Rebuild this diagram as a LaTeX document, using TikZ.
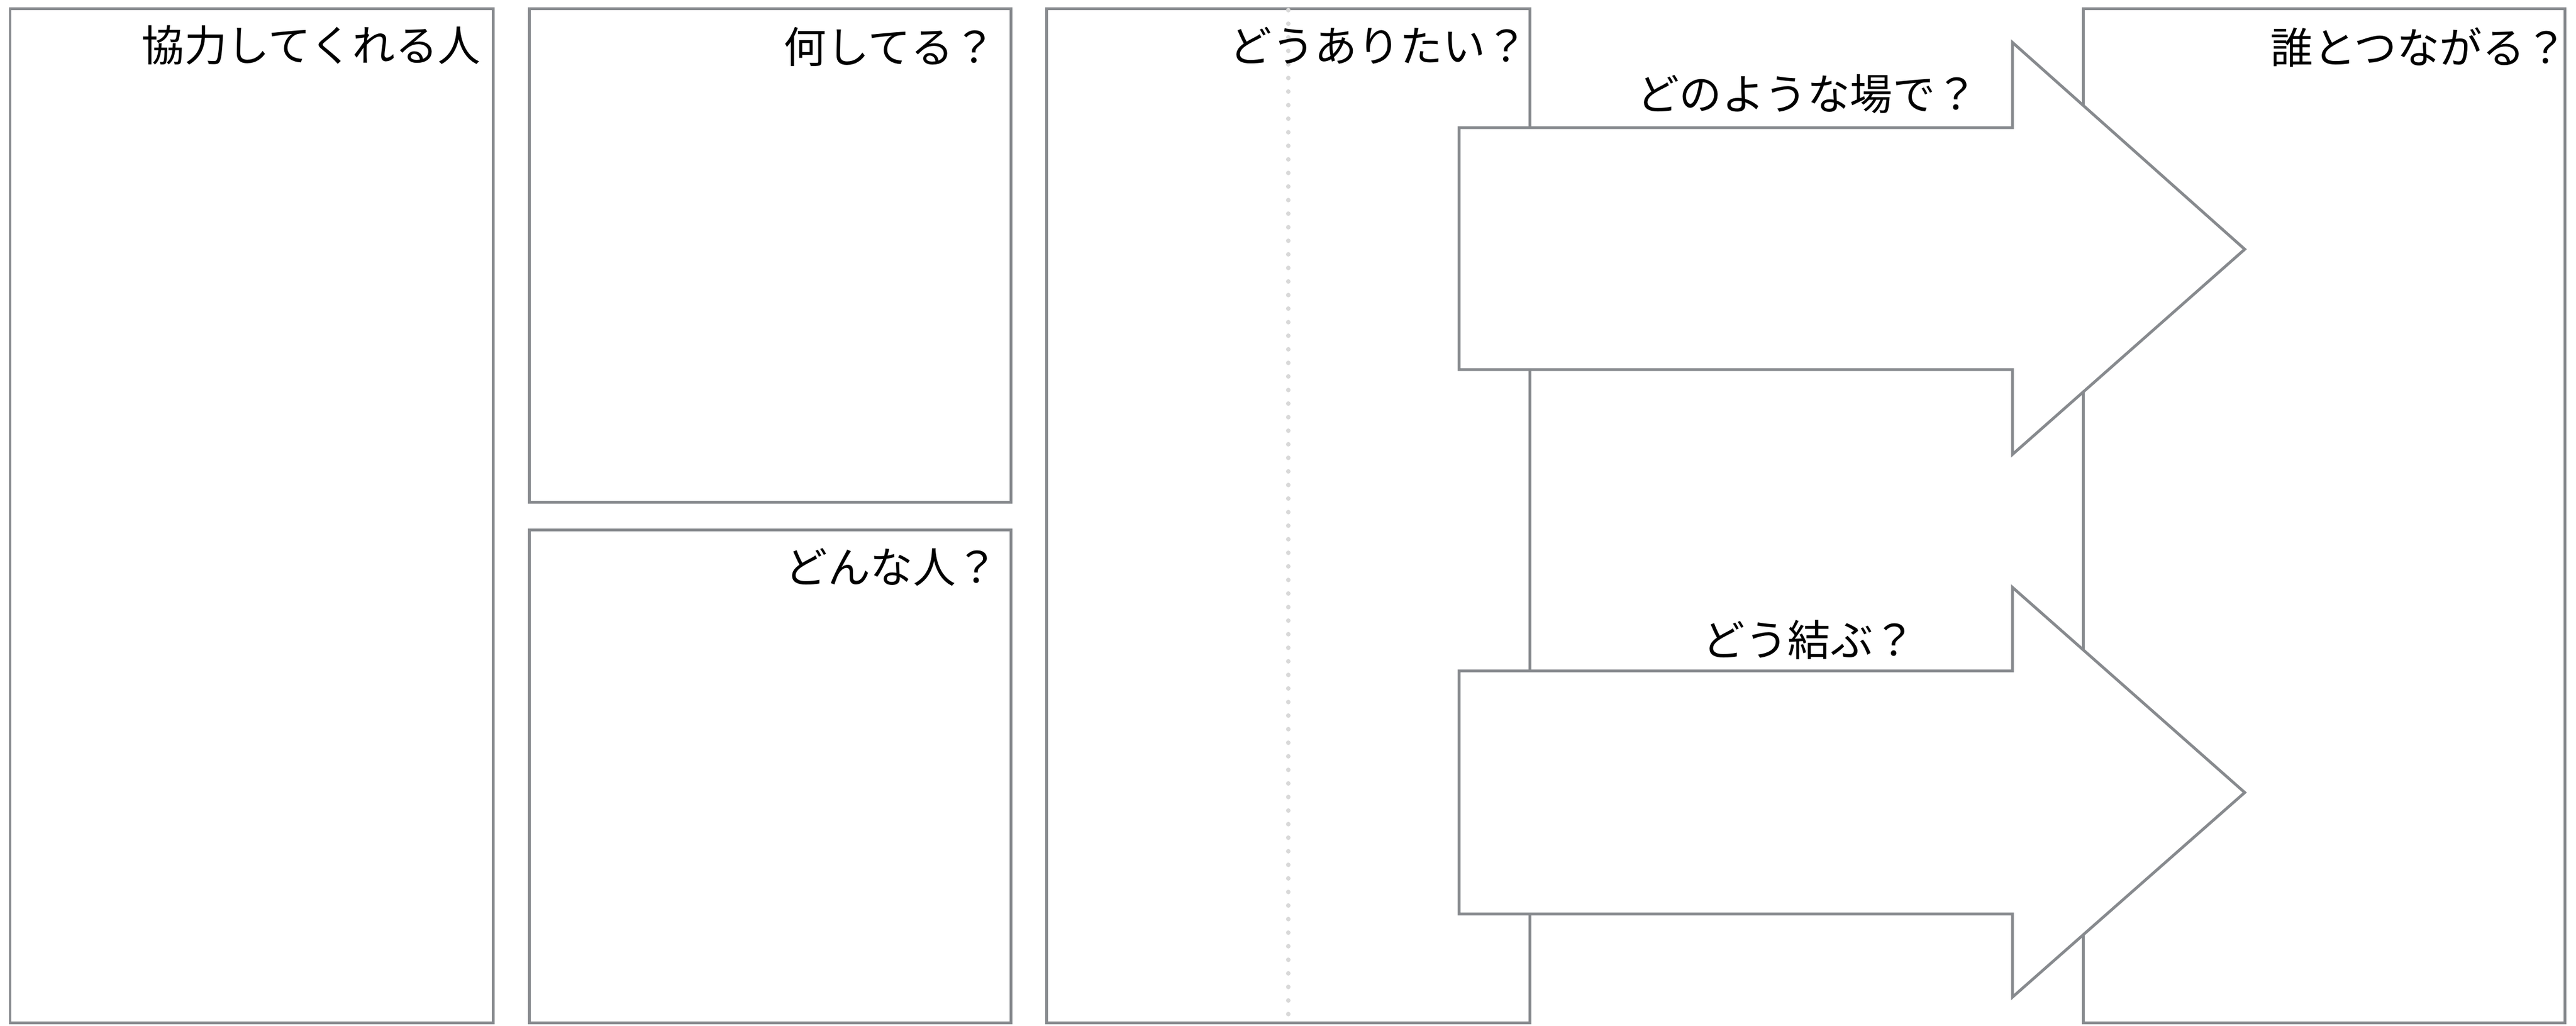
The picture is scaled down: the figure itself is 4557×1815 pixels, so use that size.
\documentclass[tikz,border=0pt]{standalone}
\usepackage{fontspec}
\newfontfamily\cjk{Noto Sans CJK JP}
\definecolor{edge}{RGB}{135,138,142}
\definecolor{dotc}{RGB}{217,217,217}
\begin{document}
\begin{tikzpicture}[x=0.1pt,y=-0.1pt,
  panel/.style={draw=edge,line width=0.5pt,fill=white,line join=miter},
  bigarrow/.style={draw=edge,line width=0.5pt,fill=white,line join=miter},
  guide/.style={draw=dotc,line width=0.8pt,line cap=round,dash pattern=on 0pt off 2.4pt},
  lbl/.style={font=\cjk\fontsize{7.55pt}{8.2pt}\selectfont,inner sep=0pt,anchor=base east,text=black}]
\useasboundingbox (0,0) rectangle (4557,1815);
\fill[white] (0,0) rectangle (4557,1815);
% panels
\draw[panel] (18,16) rectangle (872,1810);
\draw[panel] (936,16) rectangle (1788,889);
\draw[panel] (936,938) rectangle (1788,1810);
\draw[panel] (1851,16) rectangle (2706,1810);
\draw[panel] (3685,16) rectangle (4537,1810);
% dotted guide
\coordinate (gtop) at (2279,18);
\coordinate (gbot) at (2279,1808);
\draw[guide] (gtop) -- (gbot);
% panel labels
\node[lbl] (t1) at (852,109) {協力してくれる人};
\node[lbl] (t2) at (1764,112) {何してる？};
\node[lbl] (t3) at (1768,1032) {どんな人？};
\node[lbl] (t4) at (2705,110) {どうありたい？};
\node[lbl] (t5) at (4544,113) {誰とつながる？};
% arrows
\draw[bigarrow] (2581,226) -- (3560,226) -- (3560,75) -- (3971,441) -- (3560,804) -- (3560,654) -- (2581,654) -- cycle;
\draw[bigarrow] (2581,1187) -- (3560,1187) -- (3560,1039) -- (3971,1402) -- (3560,1764) -- (3560,1617) -- (2581,1617) -- cycle;
\node[lbl] (a1) at (3501,195) {どのような場で？};
\node[lbl] (a2) at (3391,1161) {どう結ぶ？};
\end{tikzpicture}
\end{document}
